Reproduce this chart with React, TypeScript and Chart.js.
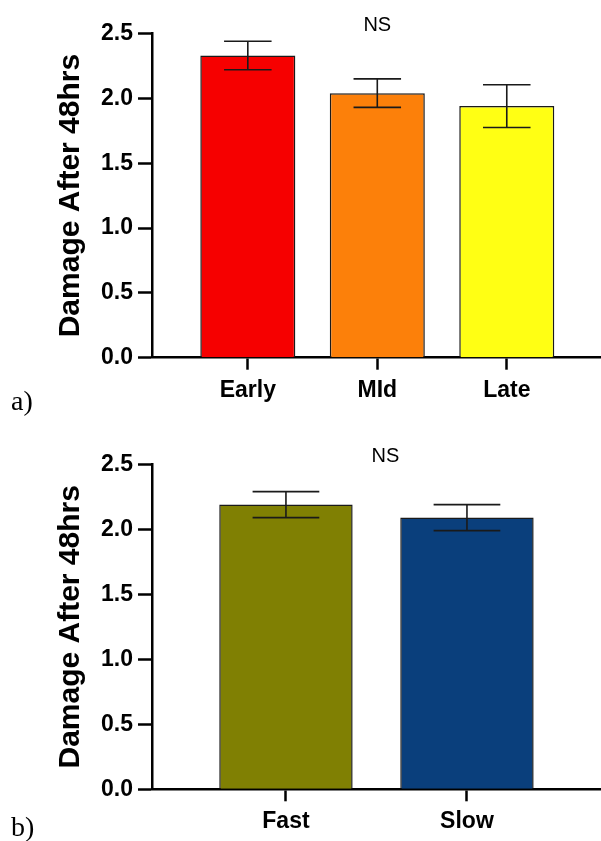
import React, { useEffect, useRef } from "react";
import { Chart, registerables } from "chart.js";

Chart.register(...registerables);

// ---- Data ----
const timingLabels = ["Early", "MId", "Late"];
const timingMeans = [2.33, 2.04, 1.94];
const timingErrors = [0.11, 0.11, 0.165];
const timingColors = ["#F60000", "#FC800A", "#FFFF14"];

const speedLabels = ["Fast", "Slow"];
const speedMeans = [2.19, 2.09];
const speedErrors = [0.1, 0.1];
const speedColors = ["#808003", "#0A3F7C"];

const yTickValues = [0, 0.5, 1.0, 1.5, 2.0, 2.5];
const yAxisTitle = "Damage After 48hrs";
const significanceText = "NS";

const SANS = "'Liberation Sans', Arial, Helvetica, sans-serif";
const SERIF = "'Liberation Serif', 'Times New Roman', serif";

type PanelSpec = {
  labels: string[];
  means: number[];
  errors: number[];
  colors: string[];
  xStart: number;
  xRange: number;
  padTop: number;
  xAxisHeight: number;
  barPct: number;
  nsX: number;
  nsY: number;
  panelLabel: string;
  panelBaseline: number;
};

function makeChart(canvas: HTMLCanvasElement, p: PanelSpec) {
  const errorBars = {
    id: "errorBars",
    afterDatasetsDraw(chart: any) {
      const { ctx } = chart;
      const meta = chart.getDatasetMeta(0);
      const ys = chart.scales.y;
      ctx.save();
      ctx.strokeStyle = "#1a1a1a";
      ctx.lineWidth = 1.6;
      meta.data.forEach((bar: any, i: number) => {
        const m = p.means[i];
        const e = p.errors[i];
        const x = bar.x;
        const half = bar.width / 4;
        const yt = ys.getPixelForValue(m + e);
        const yb = ys.getPixelForValue(m - e);
        ctx.beginPath();
        ctx.moveTo(x, yt);
        ctx.lineTo(x, yb);
        ctx.moveTo(x - half, yt);
        ctx.lineTo(x + half, yt);
        ctx.moveTo(x - half, yb);
        ctx.lineTo(x + half, yb);
        ctx.stroke();
      });
      ctx.restore();
    },
  };

  const annotations = {
    id: "annotations",
    afterDraw(chart: any) {
      const { ctx } = chart;
      const xs = chart.scales.x;
      const ys = chart.scales.y;
      ctx.save();
      ctx.fillStyle = "#000";
      ctx.font = `20px ${SANS}`;
      ctx.textAlign = "center";
      ctx.textBaseline = "middle";
      ctx.fillText(significanceText, xs.getPixelForValue(p.nsX), ys.getPixelForValue(p.nsY));
      ctx.font = `28px ${SERIF}`;
      ctx.textAlign = "left";
      ctx.textBaseline = "alphabetic";
      ctx.fillText(p.panelLabel, 11, p.panelBaseline);
      ctx.restore();
    },
  };

  return new Chart(canvas, {
    type: "bar",
    data: {
      labels: p.labels,
      datasets: [
        {
          data: p.means,
          backgroundColor: p.colors,
          borderColor: "#1a1a1a",
          borderWidth: 1.5,
          barPercentage: p.barPct,
          categoryPercentage: 1,
        },
      ],
    },
    options: {
      responsive: false,
      animation: false,
      devicePixelRatio: 1,
      layout: { padding: { top: p.padTop, left: 0, right: 1, bottom: 0 } },
      plugins: {
        legend: { display: false },
        tooltip: { enabled: false },
      },
      scales: {
        x: {
          type: "category",
          offset: false,
          afterBuildTicks: (s: any) => {
            // widen the value window so the category positions sit inside a longer axis
            s._startValue = p.xStart;
            s._valueRange = p.xRange;
          },
          afterFit: (s: any) => {
            s.height = p.xAxisHeight;
          },
          ticks: {
            autoSkip: false,
            maxRotation: 0,
            color: "#000",
            padding: 7,
            font: { family: SANS, size: 23, weight: "bold" },
          },
          grid: {
            offset: false,
            drawOnChartArea: false,
            drawTicks: true,
            tickLength: 12,
            tickWidth: 2.5,
            tickColor: "#000",
          },
          border: { display: true, width: 2.5, color: "#000" },
        },
        y: {
          type: "linear",
          min: 0,
          max: 2.5,
          afterBuildTicks: (s: any) => {
            s.ticks = yTickValues.map((v) => ({ value: v }));
          },
          afterFit: (s: any) => {
            s.width = 152;
          },
          ticks: {
            callback: (v: any) => Number(v).toFixed(1),
            color: "#000",
            padding: 5,
            font: { family: SANS, size: 23, weight: "bold" },
          },
          grid: {
            drawOnChartArea: false,
            drawTicks: true,
            tickLength: 14,
            tickWidth: 2.5,
            tickColor: "#000",
          },
          border: { display: true, width: 2.5, color: "#000" },
          title: {
            display: true,
            text: yAxisTitle,
            color: "#000",
            padding: { top: 53, bottom: 0 },
            font: { family: SANS, size: 30, weight: "bold" },
          },
        },
      },
    },
    plugins: [errorBars, annotations],
  } as any);
}

export default function App() {
  const refA = useRef<HTMLCanvasElement | null>(null);
  const refB = useRef<HTMLCanvasElement | null>(null);

  useEffect(() => {
    document.body.style.margin = "0";
    const a = makeChart(refA.current!, {
      labels: timingLabels,
      means: timingMeans,
      errors: timingErrors,
      colors: timingColors,
      xStart: -0.74,
      xRange: 3.46,
      padTop: 33.5,
      xAxisHeight: 62.3,
      barPct: 0.734,
      nsX: 1,
      nsY: 2.56,
      panelLabel: "a)",
      panelBaseline: 410,
    });
    const b = makeChart(refB.current!, {
      labels: speedLabels,
      means: speedMeans,
      errors: speedErrors,
      colors: speedColors,
      xStart: -0.74,
      xRange: 2.475,
      padTop: 44.3,
      xAxisHeight: 51.7,
      barPct: 0.737,
      nsX: 0.55,
      nsY: 2.56,
      panelLabel: "b)",
      panelBaseline: 416,
    });
    return () => {
      a.destroy();
      b.destroy();
    };
  }, []);

  return (
    <div style={{ position: "relative", width: 601, height: 841, background: "#fff" }}>
      <canvas ref={refA} width={601} height={420} style={{ display: "block", width: 601, height: 420 }} />
      <canvas ref={refB} width={601} height={421} style={{ display: "block", width: 601, height: 421 }} />
    </div>
  );
}
